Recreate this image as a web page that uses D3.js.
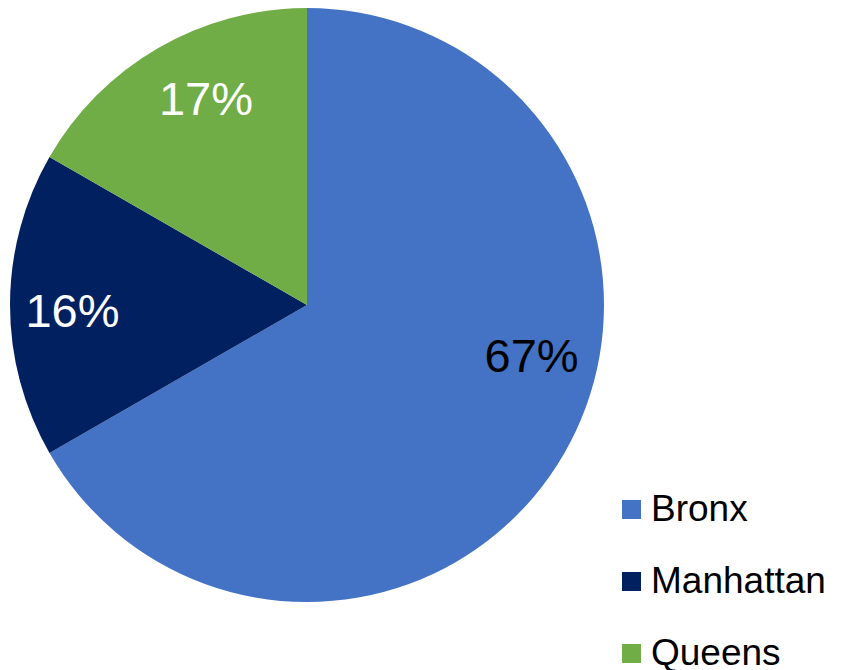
<!DOCTYPE html>
<html>
<head>
<meta charset="utf-8">
<script src="https://cdn.jsdelivr.net/npm/d3@7"></script>
<style>
  body { margin: 0; background: #fff; }
  svg { display: block; font-family: Arial, "Liberation Sans", sans-serif; }
</style>
</head>
<body>
<div id="chart"></div>
<script>
const categories = ["Bronx", "Manhattan", "Queens"];
const shares = [66.7, 16.6, 16.7];
const labels = ["67%", "16%", "17%"];

const width = 843; // page width
const height = 670; // page height
const cx = 307, cy = 305, radius = 297;

const color = d3.scaleOrdinal()
    .domain(categories)
    .range(["#4472C4", "#002060", "#70AD47"]);

const labelColor = d3.scaleOrdinal()
    .domain(categories)
    .range(["#000000", "#ffffff", "#ffffff"]);

const data = categories.map((c, i) => ({ name: c, value: shares[i], label: labels[i] }));

const svg = d3.select("#chart")
    .append("svg")
    .attr("width", width)
    .attr("height", height);

const pie = d3.pie()
    .sort(null)
    .value(d => d.value);

const arc = d3.arc()
    .innerRadius(0)
    .outerRadius(radius);

const g = svg.append("g")
    .attr("transform", `translate(${cx}, ${cy})`);

const arcs = pie(data);

g.selectAll("path")
    .data(arcs)
    .enter()
    .append("path")
    .attr("d", arc)
    .attr("fill", d => color(d.data.name));

// Excel "best fit" label placement, roughly
const labelShift = { Bronx: [-0.305, 0.775], Manhattan: [-0.02, 0.79], Queens: [0.07, 0.775] };
const labelPos = d => {
    const [da, k] = labelShift[d.data.name];
    const a = (d.startAngle + d.endAngle) / 2 + da;
    return [radius * k * Math.sin(a), -radius * k * Math.cos(a)];
};

g.selectAll(".pct")
    .data(arcs)
    .enter()
    .append("text")
    .attr("class", "pct")
    .attr("x", d => labelPos(d)[0])
    .attr("y", d => labelPos(d)[1])
    .attr("dy", "0.36em")
    .style("text-anchor", "middle")
    .style("font-size", "47px")
    .style("fill", d => labelColor(d.data.name))
    .text(d => d.data.label);

// Legend
const legend = svg.selectAll(".legend")
    .data(categories)
    .enter()
    .append("g")
    .attr("class", "legend")
    .attr("transform", (d, i) => `translate(622, ${500 + i * 72})`);

legend.append("rect")
    .attr("x", 0)
    .attr("y", 0)
    .attr("width", 19)
    .attr("height", 19)
    .style("fill", d => color(d));

legend.append("text")
    .attr("x", 29)
    .attr("y", 21)
    .style("text-anchor", "start")
    .style("font-size", "37px")
    .style("fill", "#000")
    .text(d => d);
</script>
</body>
</html>
